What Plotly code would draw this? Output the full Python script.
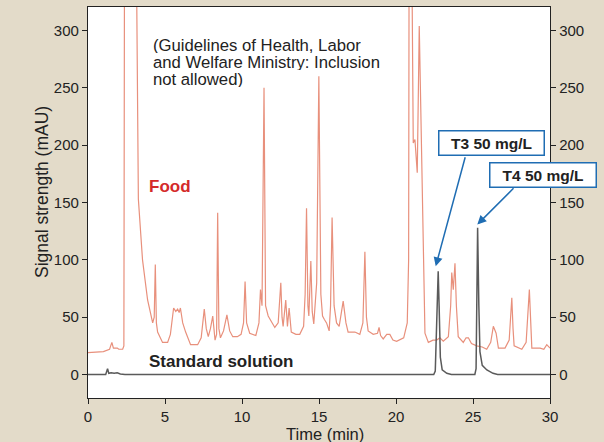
import plotly.graph_objects as go

# ---- data ----
food_time = [0, 1.0, 1.4, 1.55, 1.65, 1.9, 2.0, 2.25, 2.33, 2.38, 3.09, 3.27, 3.54, 3.87, 4.2, 4.3, 4.37, 4.44,
             4.52, 4.84, 5.17, 5.35, 5.56, 5.7, 5.82, 5.92, 6.0, 6.15, 6.34, 6.66, 7.12, 7.35, 7.55, 7.68, 7.81,
             7.95, 8.1, 8.25, 8.35, 8.42, 8.5, 8.6, 8.8, 9.02, 9.2, 9.4, 9.7, 9.94, 10.1, 10.2, 10.3, 10.5, 10.9,
             11.1, 11.2, 11.3, 11.43, 11.53, 11.7, 12.13, 12.35, 12.52, 12.6, 12.67, 12.84, 12.95, 13.06, 13.2,
             13.5, 13.75, 14.0, 14.1, 14.19, 14.28, 14.34, 14.47, 14.56, 14.66, 14.85, 14.99, 15.12, 15.23, 15.35,
             15.49, 15.66, 15.75, 15.85, 15.98, 16.14, 16.31, 16.57, 16.75, 16.89, 17.33, 17.65, 17.85, 17.98,
             18.08, 18.19, 18.52, 18.8, 18.9, 19.0, 19.17, 19.4, 19.6, 19.8, 20.04, 20.5, 20.73, 20.82, 20.86,
             20.98, 21.12, 21.23, 21.38, 21.51, 21.66, 21.77, 21.88, 22.1, 22.4, 22.64, 22.85, 23.07, 23.4, 23.55,
             23.62, 23.72, 23.83, 23.92, 24.04, 24.37, 24.55, 24.7, 24.9, 25.24, 25.6, 25.89, 26.15, 26.32, 26.5,
             26.65, 27.08, 27.35, 27.52, 27.6, 27.67, 28.17, 28.45, 28.66, 28.74, 28.82, 29.36, 29.6, 29.79, 30]
food_signal = [19, 20, 22, 28, 23, 23, 22, 22, 25, 450, 450, 153, 100, 65, 45, 50, 96, 45,
               37, 28, 28, 35, 58, 55, 57, 54, 58, 45, 37, 26, 26, 32, 57, 40, 33,
               40, 51, 30, 35, 141, 40, 32, 38, 52, 38, 33, 33, 35, 45, 81, 45, 36, 34,
               45, 74, 60, 250, 60, 51, 41, 45, 80, 50, 42, 65, 42, 58, 37,
               35, 35, 42, 70, 145, 60, 51, 99, 55, 44, 80, 260, 70, 51, 48,
               45, 38, 60, 137, 60, 45, 42, 64, 45, 37, 37, 35, 45, 107,
               50, 38, 35, 36, 41, 34, 31, 35, 35, 30, 29, 32, 45, 100, 450,
               450, 202, 205, 176, 304, 182, 94, 36, 28, 30, 30, 32, 29, 33, 60,
               89, 74, 97, 60, 33, 28, 32, 32, 27, 25, 24, 22, 28, 42, 36,
               23, 23, 30, 67, 40, 25, 22, 28, 74, 40, 23, 23, 22, 26, 23]

std_time = [0, 1.15, 1.27, 1.35, 1.5, 1.7, 1.9, 2.1, 2.4, 22.45, 22.55, 22.65, 22.74, 22.8, 22.88, 23.0, 23.3,
            23.6, 25.12, 25.2, 25.3, 25.38, 25.45, 25.6, 25.9, 26.3, 26.6, 30]
std_signal = [0, 0, 5, 1, 1.5, 1, 1.5, 0.5, 0, 0, 3, 60, 90, 60, 15, 4, 1,
              0, 0, 5, 128, 60, 20, 8, 4, 1, 0, 0]

x_ticks = [0, 5, 10, 15, 20, 25, 30]
y_ticks = [0, 50, 100, 150, 200, 250, 300]
y_range = [-20.5, 320.5]

guideline_lines = ["(Guidelines of Health, Labor", "and Welfare Ministry: Inclusion", "not allowed)"]

FONT = "Liberation Sans, Arial, Helvetica, sans-serif"
BLUE = "#1f6db3"
INK = "#222"

# plot-area geometry in pixels (for converting pixel positions of free text to paper coords)
L, R, T, B = 88, 550, 7, 398
def px(xp):
    return (xp - L) / (R - L)
def py(yp):
    return (B - yp) / (B - T)

fig = go.Figure()
fig.add_trace(go.Scatter(x=food_time, y=food_signal, mode="lines",
                         line=dict(color="#e8907c", width=1.2), showlegend=False))
fig.add_trace(go.Scatter(x=std_time, y=std_signal, mode="lines",
                         line=dict(color="#5a5a5a", width=1.5), showlegend=False))
fig.add_trace(go.Scatter(x=[None], y=[None], yaxis="y2", showlegend=False))

axis_common = dict(showgrid=False, zeroline=False, showline=True, linecolor=INK, linewidth=1.3,
                   ticks="outside", ticklen=5, tickcolor=INK, tickwidth=1,
                   tickfont=dict(family=FONT, size=15, color=INK))

fig.update_layout(
    width=604, height=442,
    margin=dict(l=L, r=604 - R, t=T, b=442 - B),
    paper_bgcolor="#e3dbc9", plot_bgcolor="white",
    font=dict(family=FONT, color=INK),
    xaxis=dict(range=[0, 30], tickvals=x_ticks, mirror=True, **axis_common),
    yaxis=dict(range=y_range, tickvals=y_ticks, **axis_common),
    yaxis2=dict(range=y_range, tickvals=y_ticks, overlaying="y", side="right", **axis_common),
)

annos = [
    # axis titles
    dict(text="Time (min)", xref="paper", yref="paper", x=px(325), y=py(433.5), xanchor="center",
         yanchor="middle", showarrow=False, font=dict(size=16.5, family=FONT, color=INK)),
    dict(text="Signal strength (mAU)", xref="paper", yref="paper", x=px(42), y=py(192), xanchor="center",
         yanchor="middle", textangle=-90, showarrow=False, font=dict(size=17.5, family=FONT, color=INK)),
    dict(text="<b>Food</b>", xref="x", yref="y", x=3.8, y=164, xanchor="left", yanchor="middle",
         showarrow=False, font=dict(size=17, family=FONT, color="#d42a2a")),
    dict(text="<b>Standard solution</b>", xref="x", yref="y", x=3.8, y=11, xanchor="left", yanchor="middle",
         showarrow=False, font=dict(size=17, family=FONT, color=INK)),
    # boxes
    dict(text="<b>T3 50 mg/L</b>", xref="paper", yref="paper", x=px(491), y=py(143.3),
         xanchor="center", yanchor="middle", showarrow=False, width=102, height=21,
         bgcolor="white", bordercolor=BLUE, borderwidth=1.5, font=dict(size=15.5, family=FONT, color=INK)),
    dict(text="<b>T4 50 mg/L</b>", xref="paper", yref="paper", x=px(543), y=py(174.5),
         xanchor="center", yanchor="middle", showarrow=False, width=103, height=21,
         bgcolor="white", bordercolor=BLUE, borderwidth=1.5, font=dict(size=15.5, family=FONT, color=INK)),
    # arrows
    dict(text=" ", xref="x", yref="y", x=22.58, y=94.4, ax=30, ay=-111, showarrow=True,
         arrowhead=2, arrowsize=1.2, arrowwidth=1.5, arrowcolor=BLUE, standoff=0,
         font=dict(size=1)),
    dict(text=" ", xref="x", yref="y", x=25.28, y=130.8, ax=37.7, ay=-37.7, showarrow=True,
         arrowhead=2, arrowsize=1.2, arrowwidth=1.5, arrowcolor=BLUE, standoff=0,
         font=dict(size=1)),
]
for i, line in enumerate(guideline_lines):
    annos.append(dict(text=line, xref="paper", yref="paper", x=px(152), y=py(45.5 + 17 * i),
                      xanchor="left", yanchor="middle", showarrow=False, height=15, borderpad=0,
                      font=dict(size=16.7, family=FONT, color=INK)))
fig.update_layout(annotations=annos)

fig.write_html("out.html")
